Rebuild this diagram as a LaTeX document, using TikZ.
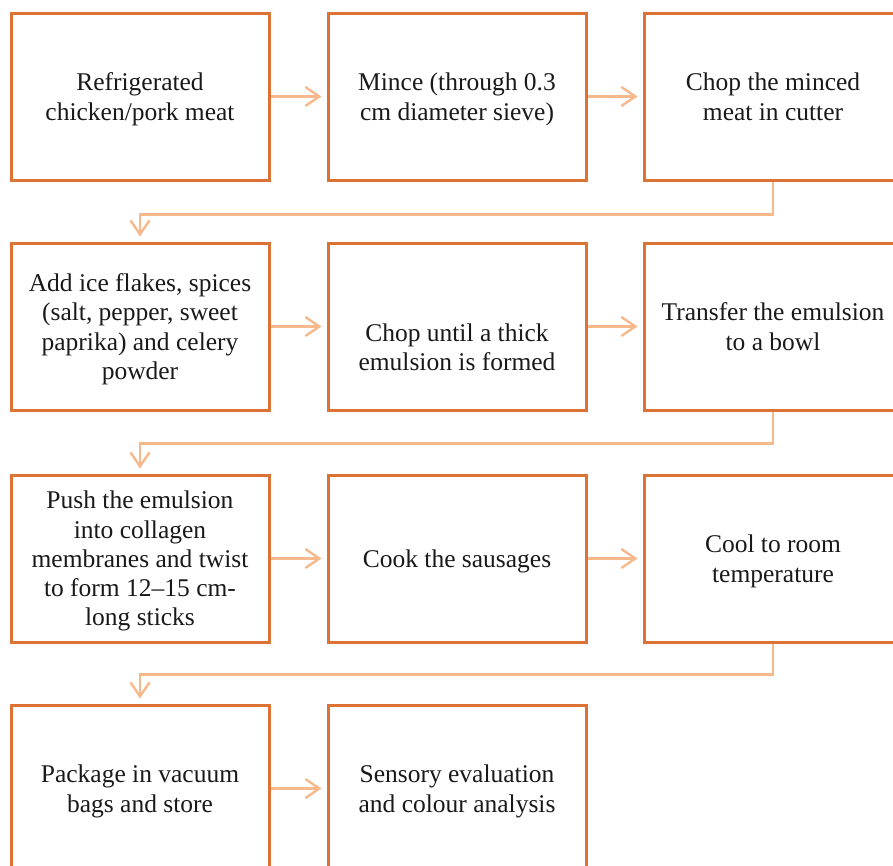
\documentclass[tikz,border=0pt]{standalone}
\usepackage{fontspec}
\setmainfont{Liberation Serif}
\usetikzlibrary{arrows.meta}
\definecolor{boxc}{HTML}{DC7233}
\definecolor{arrc}{HTML}{F7B88C}
\begin{document}
\begin{tikzpicture}[x=1pt,y=-1pt,
  stepbox/.style={draw=boxc, line width=3pt, minimum width=258pt, minimum height=167pt,
    inner sep=0pt, align=center, font=\fontsize{25.5}{29.3}\selectfont, text=black!90, text depth=0pt},
  steptext/.style={inner sep=0pt, align=center, font=\fontsize{25.5}{29.3}\selectfont, text=black!90, text depth=0pt},
  flow/.style={draw=arrc, line width=2.4pt,
    -{Straight Barb[length=14pt,width=19pt,line width=2.4pt]}, shorten >=5pt}]
\useasboundingbox (0,0) rectangle (893,865);
% row 1
\node[stepbox] (b1) at (140,96.5) {Refrigerated\\chicken/pork meat};
\node[stepbox] (b2) at (457,96.5) {Mince (through 0.3\\cm diameter sieve)};
\node[stepbox] (b3) at (773,96.5) {Chop the minced\\meat in cutter};
% row 2
\node[stepbox] (b4) at (140,326.5) {Add ice flakes, spices\\(salt, pepper, sweet\\paprika) and celery\\powder};
\node[stepbox] (b5) at (457,326.5) {};
\node[steptext] (t5) at (457,347) {Chop until a thick\\emulsion is formed};
\node[stepbox] (b6) at (773,326.5) {Transfer the emulsion\\to a bowl};
% row 3
\node[stepbox] (b7) at (140,558.5) {Push the emulsion\\into collagen\\membranes and twist\\to form 12--15 cm-\\long sticks};
\node[stepbox] (b8) at (457,558.5) {Cook the sausages};
\node[stepbox] (b9) at (773,558.5) {Cool to room\\temperature};
% row 4
\node[stepbox] (b10) at (140,788.5) {Package in vacuum\\bags and store};
\node[stepbox] (b11) at (457,788.5) {Sensory evaluation\\and colour analysis};
% connectors
\draw[flow] (b1) -- (b2);
\draw[flow] (b2) -- (b3);
\draw[flow] (b3.south) -- ++(0,33) -| (b4.north);
\draw[flow] (b4) -- (b5);
\draw[flow] (b5) -- (b6);
\draw[flow] (b6.south) -- ++(0,32) -| (b7.north);
\draw[flow] (b7) -- (b8);
\draw[flow] (b8) -- (b9);
\draw[flow] (b9.south) -- ++(0,31) -| (b10.north);
\draw[flow] (b10) -- (b11);
\end{tikzpicture}
\end{document}
